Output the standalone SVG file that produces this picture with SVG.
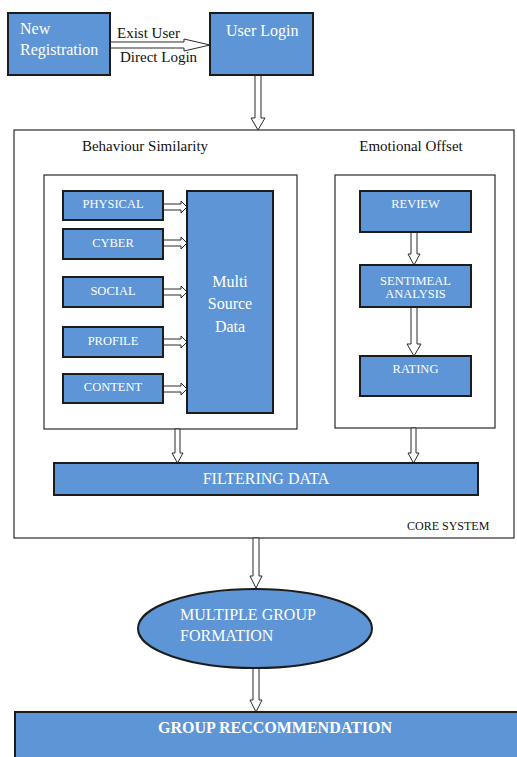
<svg xmlns="http://www.w3.org/2000/svg" width="517" height="757" viewBox="0 0 517 757" font-family="'Liberation Serif', 'DejaVu Serif', serif">
  <style>
    .box { fill: #5d95d6; stroke: #1c1c1c; stroke-width: 2; }
    .frame { fill: #ffffff; stroke: #2a2a2a; stroke-width: 1.2; }
    .arrow { fill: #ffffff; stroke: #2a2a2a; stroke-width: 1; stroke-linejoin: miter; }
    text { font-family: 'Liberation Serif', 'DejaVu Serif', serif; }
    .wt { fill: #ffffff; }
    .bt { fill: #111111; }
    .sm { font-size: 12.5px; }
    .md { font-size: 15px; }
    .lg { font-size: 16px; }
  </style>
  <rect width="517" height="757" fill="#ffffff"/>

  <!-- containers -->
  <g id="core-system">
    <rect class="frame" x="14" y="130" width="500" height="408"/>
    <text class="bt" font-size="12" x="407" y="530">CORE SYSTEM</text>
  </g>
  <g id="behaviour-similarity">
    <text class="bt md" x="145" y="151" text-anchor="middle">Behaviour Similarity</text>
    <rect class="frame" x="44" y="175" width="253" height="254"/>
  </g>
  <g id="emotional-offset">
    <text class="bt md" x="411" y="151" text-anchor="middle">Emotional Offset</text>
    <rect class="frame" x="335" y="175" width="160" height="253"/>
  </g>

  <!-- connectors -->
  <g id="connectors">
    <!-- registration to login -->
    <polygon class="arrow" points="110,42 184,42 184,39 210,45 184,51 184,48 110,48"/>
    <!-- login to core -->
    <polygon class="arrow" points="255,75 261,75 261,118 265,118 258,130 251,118 255,118"/>
    <!-- sources to multi source data -->
    <polygon class="arrow" points="163,204 181,204 181,201 187,207 181,213 181,210 163,210"/>
    <polygon class="arrow" points="163,240 181,240 181,237 187,243 181,249 181,246 163,246"/>
    <polygon class="arrow" points="163,289 181,289 181,286 187,292 181,298 181,295 163,295"/>
    <polygon class="arrow" points="163,339 181,339 181,336 187,342 181,348 181,345 163,345"/>
    <polygon class="arrow" points="163,386 181,386 181,383 187,389 181,395 181,392 163,392"/>
    <!-- review chain -->
    <polygon class="arrow" points="411,232 417,232 417,254 420,254 414,265 408,254 411,254"/>
    <polygon class="arrow" points="411,307 417,307 417,344 421,344 414,356 407,344 411,344"/>
    <!-- inner boxes to filtering -->
    <polygon class="arrow" points="175,429 180,429 180,453 183,453 177.5,463 172,453 175,453"/>
    <polygon class="arrow" points="411,428 416,428 416,453 419,453 413.5,463 408,453 411,453"/>
    <!-- core to group formation -->
    <polygon class="arrow" points="253,538 259,538 259,576 262,576 256,588 250,576 253,576"/>
    <!-- group formation to recommendation -->
    <polygon class="arrow" points="253,665 259,665 259,700 262,700 256,712 250,700 253,700"/>
  </g>

  <!-- nodes -->
  <g id="new-registration">
    <rect class="box" x="8" y="13" width="102" height="62"/>
    <text class="wt lg" x="20" y="34">New</text>
    <text class="wt lg" x="20" y="55">Registration</text>
  </g>
  <g id="edge-labels">
    <text class="bt md" x="117" y="38">Exist User</text>
    <text class="bt md" x="120" y="62">Direct Login</text>
  </g>
  <g id="user-login">
    <rect class="box" x="210" y="13" width="103" height="62"/>
    <text class="wt lg" x="226" y="36">User Login</text>
  </g>

  <g id="physical">
    <rect class="box" x="63" y="191" width="100" height="29"/>
    <text class="wt sm" x="113" y="208" text-anchor="middle">PHYSICAL</text>
  </g>
  <g id="cyber">
    <rect class="box" x="63" y="229" width="100" height="30"/>
    <text class="wt sm" x="113" y="247" text-anchor="middle">CYBER</text>
  </g>
  <g id="social">
    <rect class="box" x="63" y="277" width="100" height="30"/>
    <text class="wt sm" x="113" y="295" text-anchor="middle">SOCIAL</text>
  </g>
  <g id="profile">
    <rect class="box" x="63" y="327" width="100" height="30"/>
    <text class="wt sm" x="113" y="345" text-anchor="middle">PROFILE</text>
  </g>
  <g id="content">
    <rect class="box" x="63" y="374" width="100" height="29"/>
    <text class="wt sm" x="113" y="391" text-anchor="middle">CONTENT</text>
  </g>
  <g id="multi-source-data">
    <rect class="box" x="187" y="191" width="86" height="222"/>
    <text class="wt lg" x="230" y="287" text-anchor="middle">Multi</text>
    <text class="wt lg" x="230" y="309" text-anchor="middle">Source</text>
    <text class="wt lg" x="230" y="332" text-anchor="middle">Data</text>
  </g>

  <g id="review">
    <rect class="box" x="360" y="191" width="111" height="41"/>
    <text class="wt sm" x="415.5" y="208" text-anchor="middle">REVIEW</text>
  </g>
  <g id="sentimeal-analysis">
    <rect class="box" x="360" y="265" width="111" height="42"/>
    <text class="wt sm" x="415.5" y="285" text-anchor="middle">SENTIMEAL</text>
    <text class="wt sm" x="415.5" y="298" text-anchor="middle">ANALYSIS</text>
  </g>
  <g id="rating">
    <rect class="box" x="360" y="356" width="111" height="40"/>
    <text class="wt sm" x="415.5" y="373" text-anchor="middle">RATING</text>
  </g>

  <g id="filtering-data">
    <rect class="box" x="54" y="463" width="424" height="32"/>
    <text class="wt lg" x="266" y="484" text-anchor="middle">FILTERING DATA</text>
  </g>

  <g id="multiple-group-formation">
    <ellipse class="box" cx="255" cy="628.5" rx="117" ry="39.5"/>
    <text class="wt lg" x="180" y="620">MULTIPLE GROUP</text>
    <text class="wt lg" x="180" y="641">FORMATION</text>
  </g>

  <g id="group-recommendation">
    <rect class="box" x="15" y="712" width="510" height="60"/>
    <text class="wt lg" x="275" y="733" text-anchor="middle" font-weight="bold">GROUP RECCOMMENDATION</text>
  </g>
</svg>
